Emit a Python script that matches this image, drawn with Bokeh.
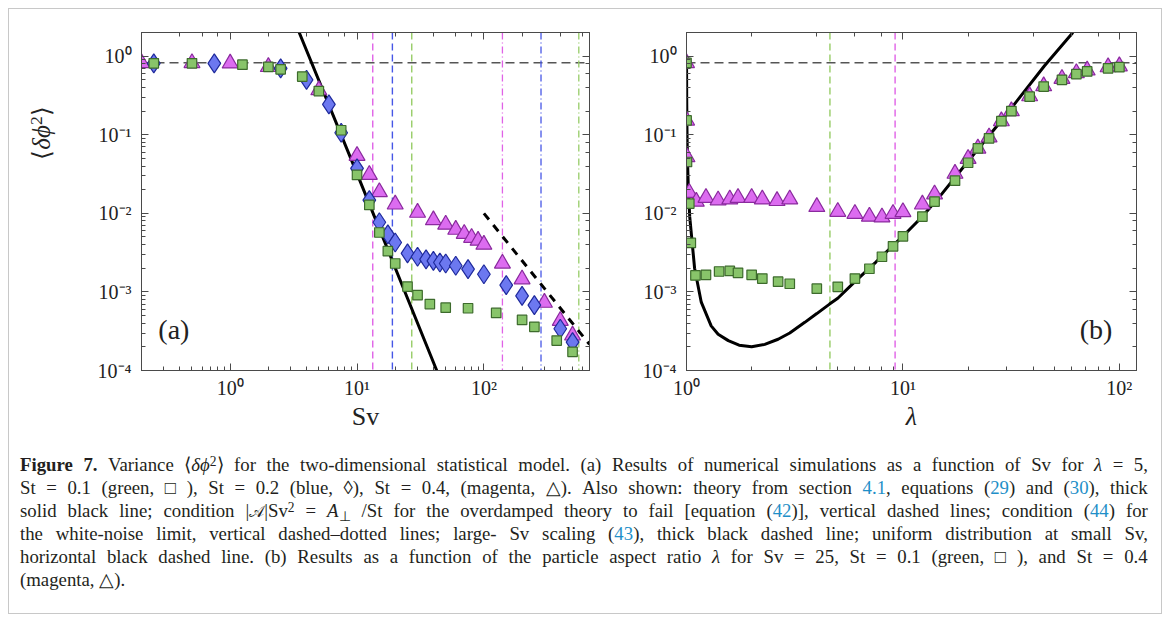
import re
from bokeh.plotting import figure
from bokeh.models import (LogAxis, LogTicker, CustomJSTickFormatter, Span, Label, Div, Range1d)
from bokeh.layouts import row, column
from bokeh.embed import file_html
from bokeh.resources import INLINE

# ---------------- data: panel (a) ----------------
sv_mag = [0.2, 0.5, 1.0, 2.0, 5.0, 10, 12.5, 15, 20, 30, 40, 50, 60, 70, 80, 90, 100, 140, 200, 300, 400, 500]
var_mag = [0.82, 0.82, 0.81, 0.73, 0.37, 0.054, 0.031, 0.0187, 0.013, 0.0102, 0.0082, 0.0072, 0.0062, 0.0055,
           0.0049, 0.0045, 0.0040, 0.0023, 0.00145, 0.00073, 0.00043, 0.00028]

sv_blue = [0.25, 0.75, 2.5, 4.0, 6.0, 7.5, 10, 12.5, 15, 17.5, 20, 25, 30, 35, 40, 45, 50, 60, 75, 100, 150,
           200, 250, 400, 500]
var_blue = [0.81, 0.81, 0.70, 0.50, 0.243, 0.106, 0.0374, 0.0147, 0.0077, 0.0054, 0.00425, 0.0031, 0.0028,
            0.0026, 0.00248, 0.00237, 0.0023, 0.00215, 0.00195, 0.00168, 0.00122, 0.00089, 0.00068, 0.00034,
            0.00023]

sv_green = [0.25, 0.5, 1.25, 2.0, 2.5, 3.7, 5.0, 7.5, 10, 12.5, 15, 17.5, 20, 25, 30, 37.5, 50, 75, 125, 200,
            250, 375, 500]
var_green = [0.81, 0.81, 0.78, 0.73, 0.68, 0.55, 0.36, 0.114, 0.0308, 0.0128, 0.0057, 0.0033, 0.0023, 0.00117,
             0.00091, 0.00070, 0.00063, 0.00062, 0.00054, 0.00044, 0.00036, 0.00024, 0.000173]

sv_theory = [3.5, 10, 42.5]
var_theory = [2.0, 0.032, 1.0e-4]

sv_large = [100, 680]
var_large = [0.0100, 0.000215]

uniform_var = 0.822
overdamped_sv = [13.3, 19.0, 27.0]      # magenta, blue, green
white_noise_sv = [140, 282, 560]        # magenta, blue, green

# ---------------- data: panel (b) ----------------
lam_mag = [1.0, 1.001, 1.005, 1.03, 1.11, 1.23, 1.40, 1.585, 1.73, 2.0, 2.24, 2.62, 3.0, 4.0, 5.0, 6.0, 7.0,
           8.0, 9.0, 10, 12.3, 14, 17.4, 20, 22.2, 25, 28.5, 31.7, 38.5, 44.7, 54.3, 63.3, 71, 88.7, 100]
var_lmag = [0.82, 0.152, 0.052, 0.0183, 0.0141, 0.0158, 0.0147, 0.0151, 0.0158, 0.0158, 0.0151, 0.0144,
            0.0151, 0.0121, 0.0105, 0.0099, 0.0091, 0.0089, 0.0099, 0.0104, 0.013, 0.0175, 0.032, 0.0495,
            0.067, 0.093, 0.149, 0.20, 0.31, 0.416, 0.515, 0.61, 0.66, 0.725, 0.746]

lam_green = [1.0, 1.001, 1.005, 1.03, 1.047, 1.10, 1.23, 1.415, 1.585, 1.73, 2.0, 2.24, 2.65, 3.0, 4.0, 5.0,
             6.0, 7.0, 8.0, 9.0, 10, 12.3, 14, 17.4, 20, 22.2, 25, 28.5, 31.7, 38.5, 44.7, 54.3, 63.3, 71,
             88.7, 100]
var_lgreen = [0.82, 0.152, 0.045, 0.0133, 0.0042, 0.00162, 0.00165, 0.00182, 0.00185, 0.00175, 0.00165,
              0.00148, 0.00135, 0.00127, 0.0011, 0.00116, 0.00148, 0.00197, 0.0028, 0.0038, 0.0051, 0.0091,
              0.0141, 0.026, 0.044, 0.067, 0.09, 0.149, 0.20, 0.305, 0.41, 0.50, 0.59, 0.64, 0.70, 0.725]

lam_theory = [1.0005, 1.002, 1.005, 1.01, 1.02, 1.035, 1.054, 1.09, 1.17, 1.3, 1.4, 1.56, 1.75, 2.0, 2.3,
              2.65, 3.0, 3.52, 4.0, 4.58, 5.0, 6.0, 7.5, 9.0, 10, 12.3, 15, 20, 30, 45, 61]
var_ltheory = [0.85, 0.3, 0.12, 0.05, 0.02, 0.009, 0.0053, 0.002, 0.00074, 0.00037, 0.00029, 0.00024,
               0.00021, 0.0002, 0.000215, 0.00025, 0.0003, 0.00041, 0.00053, 0.0007, 0.00083, 0.00135,
               0.0024, 0.0039, 0.0051, 0.0091, 0.0172, 0.046, 0.18, 0.75, 2.0]

lam_lines = [4.6, 9.2]                  # green, magenta

# ---------------- styling ----------------
SERIF = "Liberation Serif"
AX = "#4a4a4a"
MAG_FILL, MAG_LINE = "#dc6cf0", "#8a2a9e"
BLU_FILL, BLU_LINE = "#6c78f0", "#1f2a9c"
GRN_FILL, GRN_LINE = "#88c46a", "#3d6b2c"
MAG_V, BLU_V, GRN_V = "#e062e6", "#4656e6", "#96cc66"

sup_fmt_code = """
const sup = {'0':'\u2070','1':'\u00b9','2':'\u00b2','3':'\u00b3','4':'\u2074','5':'\u2075','6':'\u2076','7':'\u2077','8':'\u2078','9':'\u2079','-':'\u207b'};
const e = Math.round(Math.log10(tick));
return '10' + String(e).split('').map(c => sup[c]).join('');
"""


def style(p, xlabel, xlabel_style):
    p.xgrid.visible = False
    p.ygrid.visible = False
    p.outline_line_color = AX
    p.background_fill_color = "white"
    p.border_fill_color = "white"
    bottom = p.below[0]
    left = p.left[0]
    bottom.formatter = CustomJSTickFormatter(code=sup_fmt_code)
    left.formatter = CustomJSTickFormatter(code=sup_fmt_code)
    bottom.axis_label = xlabel
    bottom.axis_label_text_font_style = xlabel_style
    bottom.major_label_standoff = 6
    bottom.axis_label_standoff = 0
    left.major_label_standoff = 10
    p.add_layout(LogAxis(ticker=LogTicker(), formatter=CustomJSTickFormatter(code="return '';")), "above")
    p.add_layout(LogAxis(ticker=LogTicker(), formatter=CustomJSTickFormatter(code="return '';")), "right")
    for ax in p.axis:
        ax.major_tick_in = 7
        ax.major_tick_out = 0
        ax.minor_tick_in = 4
        ax.minor_tick_out = 0
        ax.axis_line_color = AX
        ax.major_tick_line_color = AX
        ax.minor_tick_line_color = AX
        ax.major_label_text_font = SERIF
        ax.major_label_text_font_size = "20px"
        ax.major_label_text_color = "#222222"
        ax.axis_label_text_font = SERIF
        ax.axis_label_text_font_size = "26px"
        ax.axis_label_text_color = "#222222"


# ---------------- panel (a) ----------------
p1 = figure(width=554, height=432, x_axis_type="log", y_axis_type="log",
            x_range=Range1d(0.2, 680), y_range=Range1d(1e-4, 2.0),
            output_backend="svg", toolbar_location=None,
            min_border_left=82, min_border_right=24, min_border_top=23, min_border_bottom=71)
style(p1, "Sv", "normal")

p1.add_layout(Span(location=uniform_var, dimension="width", line_color="#555555",
                   line_dash="9 5", line_width=1.5, level="underlay"))
for loc, col in zip(overdamped_sv, [MAG_V, BLU_V, GRN_V]):
    p1.add_layout(Span(location=loc, dimension="height", line_color=col, line_dash="7 4",
                       line_width=1.4, level="underlay"))
for loc, col in zip(white_noise_sv, [MAG_V, BLU_V, GRN_V]):
    p1.add_layout(Span(location=loc, dimension="height", line_color=col, line_dash="7 3 1 3",
                       line_width=1.3, level="underlay"))

p1.line(sv_theory, var_theory, line_color="black", line_width=3)
p1.line(sv_large, var_large, line_color="black", line_width=3, line_dash="8 7")

p1.scatter(sv_mag, var_mag, marker="triangle", size=16, fill_color=MAG_FILL, line_color=MAG_LINE,
           line_width=1.2)
p1.scatter(sv_blue, var_blue, marker="diamond", size=19, fill_color=BLU_FILL, line_color=BLU_LINE,
           line_width=1.2)
p1.scatter(sv_green, var_green, marker="square", size=9.5, fill_color=GRN_FILL, line_color=GRN_LINE,
           line_width=1.2)

p1.add_layout(Label(x=0.36, y=3.3e-4, text="(a)", text_font=SERIF, text_font_size="28px",
                    text_align="center", text_baseline="middle", text_color="#222222"))

# y-axis label as rotated HTML text, positioned like the reference
ylabel = Div(width=50, height=432, margin=(0, 0, 0, 0), text=(
    '<div style="position:absolute;left:33px;top:124px;transform:translate(-50%,-50%) rotate(-90deg);'
    'font-family:\'Liberation Serif\',serif;font-size:25px;color:#222;white-space:nowrap;">'
    '\u27e8<i>\u03b4\u03d5</i><span style="position:relative;top:-0.45em;font-size:70%;">2</span>\u27e9</div>'))

# ---------------- panel (b) ----------------
p2 = figure(width=548, height=432, x_axis_type="log", y_axis_type="log",
            x_range=Range1d(1.0, 120), y_range=Range1d(1e-4, 2.0),
            output_backend="svg", toolbar_location=None,
            min_border_left=73, min_border_right=25, min_border_top=23, min_border_bottom=71)
style(p2, "\u03bb", "italic")

p2.add_layout(Span(location=uniform_var, dimension="width", line_color="#555555",
                   line_dash="9 5", line_width=1.5, level="underlay"))
for loc, col in zip(lam_lines, [GRN_V, MAG_V]):
    p2.add_layout(Span(location=loc, dimension="height", line_color=col, line_dash="7 4",
                       line_width=1.4, level="underlay"))

p2.line(lam_theory, var_ltheory, line_color="black", line_width=3)
p2.scatter(lam_mag, var_lmag, marker="triangle", size=16, fill_color=MAG_FILL, line_color=MAG_LINE,
           line_width=1.2)
p2.scatter(lam_green, var_lgreen, marker="square", size=9.5, fill_color=GRN_FILL, line_color=GRN_LINE,
           line_width=1.2)
p2.add_layout(Label(x=78, y=3.3e-4, text="(b)", text_font=SERIF, text_font_size="28px",
                    text_align="center", text_baseline="middle", text_color="#222222"))

# ---------------- caption ----------------
L = 'style="color:#1f8fc8"'
SUP = '<span style="position:relative;top:-0.4em;font-size:72%;">'
SUB = '<span style="position:relative;top:0.3em;font-size:72%;">'
SCRIPT_A = '<span style="font-size:85%;">\U0001d49c</span>'
lines = [
    '<b>Figure</b> <b>7.</b> Variance \u27e8<i>\u03b4\u03d5</i>' + SUP + '2</span>\u27e9 for the two-dimensional statistical model. '
    '(a) Results of numerical simulations as a function of Sv for <i>\u03bb</i> = 5,',
    'St = 0.1 (green, \u25a1 ), St = 0.2 (blue, \u25ca), St = 0.4, (magenta, \u25b3). Also shown: theory from section '
    f'<span {L}>4.1</span>, equations (<span {L}>29</span>) and (<span {L}>30</span>), thick',
    'solid black line; condition |' + SCRIPT_A + '|Sv' + SUP + '2</span> = <i>A</i>' + SUB + '\u22a5</span> /St for the overdamped theory to fail '
    f'[equation (<span {L}>42</span>)], vertical dashed lines; condition (<span {L}>44</span>) for',
    'the white-noise limit, vertical dashed\u2013dotted lines; large- Sv scaling '
    f'(<span {L}>43</span>), thick black dashed line; uniform distribution at small Sv,',
    'horizontal black dashed line. (b) Results as a function of the particle aspect ratio <i>\u03bb</i> for Sv = 25, '
    'St = 0.1 (green, \u25a1 ), and St = 0.4',
    '(magenta, \u25b3).',
]
html_lines = []
for i, t in enumerate(lines):
    if i < len(lines) - 1:
        words = re.split(r' (?![^<>]*>)', t)
        items = "".join(f'<span style="white-space:nowrap;">{w}</span>' for w in words)
        html_lines.append('<div style="display:flex;flex-wrap:nowrap;justify-content:space-between;'
                          f'column-gap:3px;height:23px;align-items:baseline;">{items}</div>')
    else:
        html_lines.append(f'<div style="height:23px;white-space:nowrap;">{t}</div>')
caption_html = ('<div style="font-family:\'Liberation Serif\',serif;font-size:18.8px;line-height:23px;'
                'color:#231f20;width:1128px;">' + "".join(html_lines) + '</div>')
div = Div(text=caption_html, width=1128, height=160, margin=(12, 12, 0, 11))

layout = column(row(ylabel, p1, p2), div, margin=(8, 0, 0, 8),
                styles={"border": "1px solid #c8c8c8"})

with open("out.html", "w") as f:
    f.write(file_html(layout, INLINE))
